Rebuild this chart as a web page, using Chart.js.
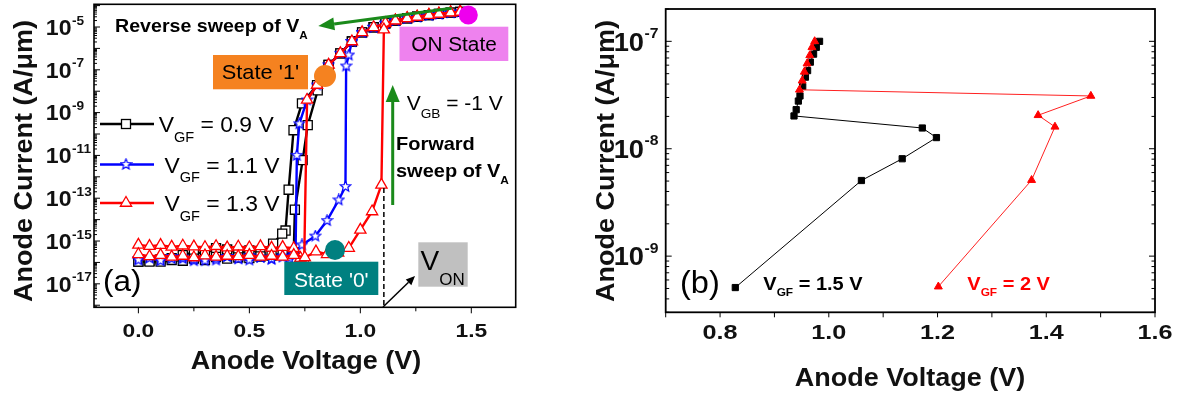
<!DOCTYPE html>
<html>
<head>
<meta charset="utf-8">
<script src="https://cdn.jsdelivr.net/npm/chart.js@4.4.1/dist/chart.umd.min.js"></script>
<style>
  body { margin: 0; background: #fff; width: 1182px; height: 394px; overflow: hidden; position: relative; }
  canvas { position: absolute; top: 0; }
  #chartA { left: 0; }
  #chartB { left: 560px; }
</style>
</head>
<body>
<canvas id="chartA" width="560" height="394"></canvas>
<canvas id="chartB" width="622" height="394"></canvas>
<script>
// ---------- panel (a): I-V hysteresis, three front-gate biases ----------
const seriesLabelsA = ['0.9 V', '1.1 V', '1.3 V'];
const xTicksA = [0, 0.5, 1.0, 1.5];
const yLabelExpA = [-5, -7, -9, -11, -13, -15, -17];

// V_GF = 0.9 V
const bkFwdV = [0.00, 0.05, 0.10, 0.15, 0.20, 0.25, 0.30, 0.35, 0.40, 0.45, 0.50, 0.55, 0.60, 0.65, 0.70, 0.705, 0.74, 0.763, 0.808, 0.857, 0.910, 0.962, 1.008, 1.060, 1.113, 1.158, 1.211, 1.256, 1.309, 1.354, 1.407, 1.45];
const bkFwdI = [1.1e-16, 1.1e-16, 1.1e-16, 1.3e-16, 1.2e-16, 1.5e-16, 1.3e-16, 1.8e-16, 1.5e-16, 1.7e-16, 1.6e-16, 1.9e-16, 2.1e-16, 2.6e-16, 3.0e-16, 2.9e-14, 6e-12, 2.6e-10, 1.1e-8, 1.7e-7, 5.9e-7, 2.1e-6, 5.6e-6, 9.7e-6, 1.5e-5, 2.0e-5, 2.55e-5, 3.0e-5, 3.6e-5, 4.1e-5, 4.7e-5, 5.1e-5];
const bkRevV = [1.45, 1.407, 1.354, 1.309, 1.256, 1.211, 1.158, 1.113, 1.060, 1.008, 0.962, 0.910, 0.857, 0.805, 0.737, 0.699, 0.677, 0.663, 0.648, 0.607, 0.55, 0.50, 0.45, 0.40, 0.35, 0.30, 0.25, 0.20, 0.15, 0.10, 0.05, 0.00];
const bkRevI = [5.1e-5, 4.7e-5, 4.1e-5, 3.6e-5, 3.0e-5, 2.55e-5, 2.0e-5, 1.5e-5, 9.7e-6, 5.6e-6, 2.1e-6, 5.9e-7, 1.7e-7, 1.9e-8, 2.7e-9, 1.5e-10, 2.5e-13, 3.1e-15, 2.2e-15, 7.6e-16, 3.2e-16, 3.6e-16, 2.8e-16, 4.0e-16, 4.6e-16, 2.6e-16, 3.0e-16, 2.2e-16, 1.6e-16, 1.4e-16, 1.2e-16, 1.1e-16];

// V_GF = 1.1 V
const buFwdV = [0.00, 0.05, 0.10, 0.15, 0.20, 0.25, 0.30, 0.35, 0.40, 0.45, 0.50, 0.55, 0.60, 0.65, 0.70, 0.737, 0.797, 0.850, 0.9025, 0.933, 0.936, 0.948, 0.962, 1.008, 1.060, 1.113, 1.158, 1.211, 1.256, 1.309, 1.354, 1.407, 1.45];
const buFwdI = [1.3e-16, 1.6e-16, 1.2e-16, 1.5e-16, 1.8e-16, 1.4e-16, 1.2e-16, 1.6e-16, 1.9e-16, 1.5e-16, 1.3e-16, 1.7e-16, 1.5e-16, 1.8e-16, 2.4e-16, 6.6e-16, 1.7e-15, 9e-15, 8.3e-14, 3.5e-13, 1.5e-7, 4.9e-7, 2.1e-6, 5.6e-6, 9.7e-6, 1.5e-5, 2.0e-5, 2.55e-5, 3.0e-5, 3.6e-5, 4.1e-5, 4.7e-5, 5.1e-5];
const buRevV = [1.45, 1.407, 1.354, 1.309, 1.256, 1.211, 1.158, 1.113, 1.060, 1.008, 0.962, 0.910, 0.857, 0.805, 0.760, 0.725, 0.714, 0.708, 0.68, 0.65, 0.60, 0.55, 0.50, 0.45, 0.40, 0.35, 0.30, 0.25, 0.20, 0.15, 0.10, 0.05, 0.00];
const buRevI = [5.1e-5, 4.7e-5, 4.1e-5, 3.6e-5, 3.0e-5, 2.55e-5, 2.0e-5, 1.5e-5, 9.7e-6, 5.6e-6, 2.1e-6, 5.9e-7, 1.7e-7, 1.95e-8, 3.9e-9, 3e-10, 1e-11, 2.2e-16, 1.6e-16, 2.0e-16, 1.4e-16, 1.8e-16, 2.1e-16, 1.5e-16, 1.9e-16, 1.3e-16, 1.7e-16, 1.2e-16, 1.5e-16, 1.9e-16, 1.4e-16, 1.7e-16, 1.5e-16];

// V_GF = 1.3 V
const rdFwdV = [0.00, 0.05, 0.10, 0.15, 0.20, 0.25, 0.30, 0.35, 0.40, 0.45, 0.50, 0.55, 0.60, 0.65, 0.70, 0.75, 0.80, 0.85, 0.90, 0.948, 1.000, 1.053, 1.095, 1.106, 1.158, 1.211, 1.256, 1.309, 1.354, 1.407, 1.45];
const rdFwdI = [2.4e-16, 1.9e-16, 2.2e-16, 1.8e-16, 2.0e-16, 1.7e-16, 2.1e-16, 1.8e-16, 2.0e-16, 1.9e-16, 2.2e-16, 1.8e-16, 2.0e-16, 1.8e-16, 2.2e-16, 1.7e-16, 3.2e-16, 2.4e-16, 2.8e-16, 4.7e-16, 3.3e-15, 2.4e-14, 4.2e-13, 7.5e-6, 2.0e-5, 2.55e-5, 3.0e-5, 3.6e-5, 4.1e-5, 4.7e-5, 5.1e-5];
const rdRevV = [1.45, 1.407, 1.354, 1.309, 1.256, 1.211, 1.158, 1.113, 1.060, 1.008, 0.962, 0.910, 0.857, 0.805, 0.760, 0.747, 0.73, 0.70, 0.65, 0.60, 0.55, 0.50, 0.45, 0.40, 0.35, 0.30, 0.25, 0.20, 0.15, 0.10, 0.05, 0.00];
const rdRevI = [5.1e-5, 4.7e-5, 4.1e-5, 3.6e-5, 3.0e-5, 2.55e-5, 2.0e-5, 1.5e-5, 9.7e-6, 5.6e-6, 2.1e-6, 5.9e-7, 1.7e-7, 1.95e-8, 3.9e-9, 1.2e-16, 1.6e-16, 4.6e-16, 5.2e-16, 4.8e-16, 5.6e-16, 5.0e-16, 5.4e-16, 4.9e-16, 5.7e-16, 5.1e-16, 5.5e-16, 6.0e-16, 5.3e-16, 6.4e-16, 5.8e-16, 6.6e-16];

// ---------- panel (b): snapback, two front-gate biases ----------
const seriesLabelsB = ['1.5 V', '2 V'];
const xTicksB = [0.8, 1.0, 1.2, 1.4, 1.6];
const yLabelExpB = [-7, -8, -9];
const b15V = [0.828, 1.060, 1.135, 1.198, 1.172, 0.936, 0.940, 0.944, 0.947, 0.952, 0.957, 0.961, 0.966, 0.972, 0.977, 0.983];
const b15I = [5.1e-10, 5.06e-9, 8.07e-9, 1.27e-8, 1.56e-8, 2.02e-8, 2.31e-8, 2.78e-8, 3.1e-8, 3.8e-8, 4.64e-8, 5.34e-8, 6.4e-8, 7.6e-8, 8.8e-8, 1e-7];
const b20V = [1.2015, 1.373, 1.416, 1.385, 1.482, 0.946, 0.951, 0.955, 0.960, 0.965, 0.969, 0.974];
const b20I = [5.2e-10, 5.1e-9, 1.6e-8, 2.05e-8, 3.1e-8, 3.54e-8, 4.3e-8, 5.2e-8, 6.2e-8, 7.4e-8, 8.8e-8, 1e-7];

const SANS = '"Liberation Sans", Arial, sans-serif';
const pts = (v, i) => v.map((x, k) => ({ x: x, y: i[k] }));

// hollow five-point star used as the 1.1 V marker
function makeStar(size, color) {
  const c = document.createElement('canvas');
  c.width = size; c.height = size;
  const g = c.getContext('2d');
  const R = size / 2 - 1, r = R * 0.45;
  g.beginPath();
  for (let k = 0; k < 10; k++) {
    const a = -Math.PI / 2 + k * Math.PI / 5;
    const rad = k % 2 ? r : R;
    g.lineTo(size / 2 + rad * Math.cos(a), size / 2 + rad * Math.sin(a));
  }
  g.closePath();
  g.fillStyle = '#fff'; g.fill();
  g.strokeStyle = color; g.lineWidth = 1.2; g.stroke();
  return c;
}
const starImg = makeStar(13, '#0000ff');

function drawRuns(ctx, x, y, parts, color, sx, align, rot) {
  ctx.save();
  ctx.fillStyle = color;
  ctx.textAlign = 'left';
  ctx.textBaseline = 'alphabetic';
  let w = 0;
  parts.forEach(p => { ctx.font = p.font; w += ctx.measureText(p.text).width; });
  ctx.translate(x, y);
  if (rot) ctx.rotate(rot);
  ctx.scale(sx, 1);
  let cx = align === 'center' ? -w / 2 : align === 'right' ? -w : 0;
  parts.forEach(p => { ctx.font = p.font; ctx.fillText(p.text, cx, p.dy || 0); cx += ctx.measureText(p.text).width; });
  ctx.restore();
}

function line(ctx, x1, y1, x2, y2) {
  ctx.beginPath(); ctx.moveTo(x1, y1); ctx.lineTo(x2, y2); ctx.stroke();
}

function arrow(ctx, x1, y1, x2, y2, color, lw, hl, hw) {
  const ang = Math.atan2(y2 - y1, x2 - x1);
  const bx = x2 - hl * Math.cos(ang), by = y2 - hl * Math.sin(ang);
  ctx.strokeStyle = color; ctx.lineWidth = lw;
  line(ctx, x1, y1, bx, by);
  ctx.fillStyle = color;
  ctx.beginPath();
  ctx.moveTo(x2, y2);
  ctx.lineTo(bx + hw * Math.sin(ang), by - hw * Math.cos(ang));
  ctx.lineTo(bx - hw * Math.sin(ang), by + hw * Math.cos(ang));
  ctx.closePath(); ctx.fill();
}

function dot(ctx, x, y, r, color) {
  ctx.fillStyle = color;
  ctx.beginPath(); ctx.arc(x, y, r, 0, Math.PI * 2); ctx.fill();
}

function logTicks(ctx, scale, x0, dir, major, minor) {
  const lo = Math.floor(Math.log10(scale.min)), hi = Math.ceil(Math.log10(scale.max));
  for (let e = lo; e <= hi; e++) {
    for (let m = 1; m <= 9; m++) {
      const v = m * Math.pow(10, e);
      if (v < scale.min || v > scale.max) continue;
      const py = scale.getPixelForValue(v);
      line(ctx, x0, py, x0 + dir * (m === 1 ? major : minor), py);
    }
  }
}

function sweep(v, i, color, style, radius) {
  return {
    data: pts(v, i), showLine: true, borderColor: color, borderWidth: 2.4,
    pointStyle: style, pointRadius: radius, pointBorderColor: color,
    pointBackgroundColor: '#fff', pointBorderWidth: 1.3, tension: 0
  };
}

const panelA = {
  id: 'panelA',
  afterDraw(chart) {
    const { ctx, chartArea: a, scales: { x, y } } = chart;
    ctx.save();
    ctx.strokeStyle = '#000'; ctx.lineWidth = 1.6;
    ctx.strokeRect(a.left, a.top, a.right - a.left, a.bottom - a.top);
    ctx.lineWidth = 1;
    logTicks(ctx, y, a.left, 1, 6, 3);
    [0, 0.25, 0.5, 0.75, 1.0, 1.25, 1.5].forEach(v => {
      const px = x.getPixelForValue(v);
      line(ctx, px, a.bottom, px, a.bottom + (xTicksA.includes(v) ? 6 : 4));
    });
    xTicksA.forEach(v => {
      drawRuns(ctx, x.getPixelForValue(v), 337, [{ text: v.toFixed(1), font: 'bold 19px ' + SANS }], '#111', 1.2, 'center');
    });
    yLabelExpA.forEach(e => {
      const py = y.getPixelForValue(Math.pow(10, e));
      drawRuns(ctx, 71.5, py + 7.8, [{ text: '10', font: 'bold 22px ' + SANS }], '#111', 1.05, 'right');
      drawRuns(ctx, 72, py - 2.5, [{ text: String(e), font: 'bold 13px ' + SANS }], '#111', 1.05, 'left');
    });
    drawRuns(ctx, 306, 369, [{ text: 'Anode Voltage (V)', font: 'bold 25px ' + SANS }], '#111', 1.08, 'center');
    drawRuns(ctx, 31.5, 161, [{ text: 'Anode Current (A/\u03bcm)', font: 'bold 25px ' + SANS }], '#111', 1.08, 'center', -Math.PI / 2);

    // V_ON marker and pointer
    ctx.strokeStyle = '#000'; ctx.lineWidth = 1.5; ctx.setLineDash([5, 3]);
    line(ctx, x.getPixelForValue(1.106), 188, x.getPixelForValue(1.106), a.bottom);
    ctx.setLineDash([]);
    arrow(ctx, 383, 307, 415, 276, '#000', 1.5, 9, 4);
    ctx.fillStyle = '#c0c0c0'; ctx.fillRect(418.3, 242.3, 49.4, 44.4);
    drawRuns(ctx, 420.5, 270, [{ text: 'V', font: '28px ' + SANS }, { text: 'ON', font: '17px ' + SANS, dy: 15 }], '#000', 1, 'left');

    // sweep arrows
    arrow(ctx, 451.7, 8.3, 318.3, 26, '#1a8a1a', 3, 16, 6.5);
    arrow(ctx, 392.7, 205, 392.7, 85, '#1a8a1a', 3, 17, 7);
    drawRuns(ctx, 115, 31.7, [{ text: 'Reverse sweep of V', font: 'bold 18.5px ' + SANS }, { text: 'A', font: 'bold 11px ' + SANS, dy: 7.5 }], '#000', 1.06, 'left');
    drawRuns(ctx, 396, 150, [{ text: 'Forward', font: 'bold 18.5px ' + SANS }], '#000', 1.08, 'left');
    drawRuns(ctx, 396, 176.7, [{ text: 'sweep of V', font: 'bold 18.5px ' + SANS }, { text: 'A', font: 'bold 11px ' + SANS, dy: 7 }], '#000', 1.08, 'left');
    drawRuns(ctx, 406.7, 110, [{ text: 'V', font: '20px ' + SANS }, { text: 'GB', font: '13px ' + SANS, dy: 7.5 }, { text: ' = -1 V', font: '20px ' + SANS }], '#000', 1.05, 'left');

    // state boxes and dots
    ctx.fillStyle = '#ee82ee'; ctx.fillRect(399.5, 26.7, 108.8, 34.3);
    drawRuns(ctx, 454, 51, [{ text: 'ON State', font: '20px ' + SANS }], '#000', 1.04, 'center');
    dot(ctx, 468.3, 15, 9.5, '#ee00ee');
    ctx.fillStyle = '#f58220'; ctx.fillRect(213, 55, 95, 34.3);
    drawRuns(ctx, 260.5, 79.3, [{ text: "State '1'", font: '21px ' + SANS }], '#000', 1.04, 'center');
    dot(ctx, 325, 76, 11, '#f58220');
    dot(ctx, 335, 250, 10, '#008080');
    ctx.fillStyle = '#008080'; ctx.fillRect(284.3, 261.7, 94, 33.3);
    drawRuns(ctx, 331.3, 286.8, [{ text: "State '0'", font: '21px ' + SANS }], '#fff', 1.0, 'center');

    drawRuns(ctx, 103, 291, [{ text: '(a)', font: '30px ' + SANS }], '#000', 1.05, 'left');

    // legend
    const leg = [
      { y: 124, color: '#000', label: seriesLabelsA[0], tx: 158.7 },
      { y: 164.5, color: '#0000ff', label: seriesLabelsA[1], tx: 164.5 },
      { y: 203, color: '#ff0000', label: seriesLabelsA[2], tx: 164.5 }
    ];
    leg.forEach((l, k) => {
      ctx.strokeStyle = l.color; ctx.lineWidth = 2.4;
      line(ctx, 100, l.y, 154, l.y);
      ctx.fillStyle = '#fff'; ctx.lineWidth = 1.3;
      if (k === 0) { ctx.fillRect(121.5, l.y - 4.5, 9, 9); ctx.strokeRect(121.5, l.y - 4.5, 9, 9); }
      if (k === 1) ctx.drawImage(starImg, 126 - 6.5, l.y - 6.5);
      if (k === 2) {
        const r = 6.5;
        ctx.beginPath(); ctx.moveTo(126, l.y - r);
        ctx.lineTo(126 + r * 0.866, l.y + r / 2); ctx.lineTo(126 - r * 0.866, l.y + r / 2);
        ctx.closePath(); ctx.fill(); ctx.stroke();
      }
      drawRuns(ctx, l.tx, l.y + 8.4, [
        { text: 'V', font: '22px ' + SANS },
        { text: 'GF', font: '14px ' + SANS, dy: 9.4 },
        { text: ' = ' + l.label, font: '22px ' + SANS }
      ], '#000', 1.04, 'left');
    });
    ctx.restore();
  }
};

new Chart(document.getElementById('chartA'), {
  type: 'scatter',
  data: {
    datasets: [
      sweep(rdFwdV, rdFwdI, '#ff0000', 'triangle', 6.5),
      sweep(rdRevV, rdRevI, '#ff0000', 'triangle', 6.5),
      sweep(buFwdV, buFwdI, '#0000ff', starImg, 6),
      sweep(buRevV, buRevI, '#0000ff', starImg, 6),
      sweep(bkFwdV, bkFwdI, '#000000', 'rect', 6.4),
      sweep(bkRevV, bkRevI, '#000000', 'rect', 6.4)
    ]
  },
  options: {
    responsive: false,
    animation: false,
    devicePixelRatio: 1,
    layout: { autoPadding: false, padding: { left: 94, top: 4.3, right: 44.3, bottom: 86.7 } },
    plugins: { legend: { display: false }, tooltip: { enabled: false } },
    scales: {
      x: { type: 'linear', display: false, min: -0.2, max: 1.7 },
      y: { type: 'logarithmic', display: false, min: 8e-19, max: 1.15e-4 }
    }
  },
  plugins: [panelA]
});

const panelB = {
  id: 'panelB',
  afterDraw(chart) {
    const { ctx, chartArea: a, scales: { x, y } } = chart;
    ctx.save();
    ctx.strokeStyle = '#000'; ctx.lineWidth = 1.8;
    ctx.strokeRect(a.left, a.top, a.right - a.left, a.bottom - a.top);
    ctx.lineWidth = 1;
    logTicks(ctx, y, a.left, 1, 6, 3.5);
    logTicks(ctx, y, a.right, -1, 6, 3.5);
    [0.7, 0.8, 0.9, 1.0, 1.1, 1.2, 1.3, 1.4, 1.5, 1.6].forEach(v => {
      const px = x.getPixelForValue(v);
      line(ctx, px, a.bottom, px, a.bottom + 5);
    });
    xTicksB.forEach(v => {
      drawRuns(ctx, x.getPixelForValue(v), 339, [{ text: v.toFixed(1), font: 'bold 21px ' + SANS }], '#111', 1.2, 'center');
    });
    yLabelExpB.forEach(e => {
      const py = y.getPixelForValue(Math.pow(10, e));
      drawRuns(ctx, 84, py + 9.3, [{ text: '10', font: 'bold 26px ' + SANS }], '#111', 1.05, 'right');
      drawRuns(ctx, 84.5, py - 3.5, [{ text: String(e), font: 'bold 15px ' + SANS }], '#111', 1.05, 'left');
    });
    drawRuns(ctx, 350, 385.5, [{ text: 'Anode Voltage (V)', font: 'bold 25px ' + SANS }], '#111', 1.08, 'center');
    drawRuns(ctx, 54, 161, [{ text: 'Anode Current (A/\u03bcm)', font: 'bold 25px ' + SANS }], '#111', 1.08, 'center', -Math.PI / 2);
    drawRuns(ctx, 120, 293, [{ text: '(b)', font: '31px ' + SANS }], '#000', 1.05, 'left');
    drawRuns(ctx, 203.3, 290, [
      { text: 'V', font: 'bold 18.5px ' + SANS },
      { text: 'GF', font: 'bold 11px ' + SANS, dy: 5.5 },
      { text: ' = ' + seriesLabelsB[0], font: 'bold 18.5px ' + SANS }
    ], '#000', 1.08, 'left');
    drawRuns(ctx, 407.3, 290, [
      { text: 'V', font: 'bold 18.5px ' + SANS },
      { text: 'GF', font: 'bold 11px ' + SANS, dy: 5.5 },
      { text: ' = ' + seriesLabelsB[1], font: 'bold 18.5px ' + SANS }
    ], '#ff0000', 1.08, 'left');
    ctx.restore();
  }
};

new Chart(document.getElementById('chartB'), {
  type: 'scatter',
  data: {
    datasets: [
      { data: pts(b20V, b20I), showLine: true, borderColor: '#ff2020', borderWidth: 1, pointStyle: 'triangle', pointRadius: 4.6, pointBackgroundColor: '#ff0000', pointBorderColor: '#ff0000', pointBorderWidth: 1, tension: 0 },
      { data: pts(b15V, b15I), showLine: true, borderColor: '#000', borderWidth: 1, pointStyle: 'rect', pointRadius: 4.4, pointBackgroundColor: '#000', pointBorderColor: '#000', pointBorderWidth: 1, tension: 0 }
    ]
  },
  options: {
    responsive: false,
    animation: false,
    devicePixelRatio: 1,
    layout: { autoPadding: false, padding: { left: 105.7, top: 9, right: 27, bottom: 81.7 } },
    plugins: { legend: { display: false }, tooltip: { enabled: false } },
    scales: {
      x: { type: 'linear', display: false, min: 0.7, max: 1.6 },
      y: { type: 'logarithmic', display: false, min: 3e-10, max: 2e-7 }
    }
  },
  plugins: [panelB]
});
</script>
</body>
</html>
